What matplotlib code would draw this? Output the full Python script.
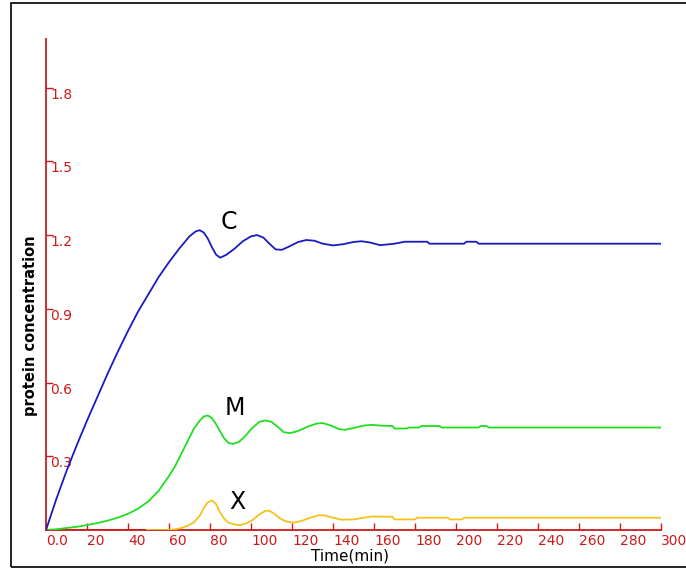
import matplotlib
matplotlib.use("Agg")
import matplotlib.pyplot as plt
from matplotlib.patches import Rectangle

# protein C (blue)
t_c = [0, 5, 10, 15, 20, 25, 30, 35, 40, 45, 50, 55, 60, 65, 70, 73, 75, 77, 79, 81,
       83, 85, 88, 92, 96, 100, 103, 106, 109, 112, 115, 119, 123, 127, 131, 135, 140,
       145, 150, 154, 158, 163, 170, 175, 186, 187, 204, 205, 210, 211, 300]
c_vals = [0, 0.125, 0.24, 0.345, 0.445, 0.54, 0.635, 0.725, 0.81, 0.89, 0.96, 1.03,
          1.09, 1.145, 1.195, 1.215, 1.22, 1.21, 1.185, 1.15, 1.12, 1.108, 1.12, 1.145,
          1.175, 1.195, 1.2, 1.19, 1.165, 1.142, 1.14, 1.155, 1.172, 1.18, 1.177, 1.165,
          1.158, 1.163, 1.172, 1.175, 1.17, 1.159, 1.165, 1.173, 1.173, 1.165, 1.165,
          1.173, 1.173, 1.165, 1.165]

# protein M (green)
t_m = [0, 5, 10, 15, 20, 25, 30, 35, 40, 45, 50, 55, 60, 63, 66, 69, 72, 75, 77, 79,
       81, 83, 85, 87, 89, 91, 94, 97, 100, 104, 107, 110, 113, 116, 119, 123, 128, 132,
       135, 139, 143, 146, 150, 155, 159, 163, 169, 170, 176, 177, 182, 183, 192, 193,
       211, 212, 215, 216, 300]
m_vals = [0, 0.003, 0.008, 0.013, 0.02, 0.028, 0.038, 0.05, 0.066, 0.087, 0.117, 0.16,
          0.22, 0.26, 0.31, 0.36, 0.41, 0.445, 0.462, 0.466, 0.455, 0.43, 0.4, 0.372,
          0.355, 0.35, 0.358, 0.38, 0.41, 0.44, 0.446, 0.44, 0.42, 0.398, 0.394, 0.403,
          0.422, 0.433, 0.435, 0.425, 0.41, 0.408, 0.415, 0.425, 0.428, 0.425, 0.423,
          0.413, 0.413, 0.417, 0.417, 0.423, 0.423, 0.417, 0.417, 0.423, 0.423, 0.417,
          0.417]

# protein X (yellow)
t_x = [0, 60, 63, 66, 69, 72, 75, 77, 79, 81, 83, 85, 87, 89, 92, 95, 98, 101, 104,
       107, 109, 111, 114, 117, 121, 125, 129, 133, 136, 140, 144, 150, 155, 159, 164,
       169, 170, 180, 181, 196, 197, 203, 204, 300]
x_vals = [0, 0, 0.003, 0.008, 0.017, 0.03, 0.058, 0.09, 0.113, 0.12, 0.105, 0.07,
          0.045, 0.03, 0.022, 0.02, 0.028, 0.042, 0.063, 0.078, 0.078, 0.068, 0.048,
          0.035, 0.03, 0.038, 0.05, 0.06, 0.059, 0.05, 0.042, 0.043, 0.05, 0.055,
          0.054, 0.054, 0.043, 0.043, 0.05, 0.05, 0.043, 0.043, 0.05, 0.05]

# red trace lying on the time axis
t_r = [0, 48]
r_vals = [0, 0]

x_ticks = list(range(0, 301, 20))
x_labels = ["0.0"] + [str(v) for v in x_ticks[1:]]
y_ticks = [0.3, 0.6, 0.9, 1.2, 1.5, 1.8]
y_labels = ["0.3", "0.6", "0.9", "1.2", "1.5", "1.8"]

RED = "#cc1a1a"

fig = plt.figure(figsize=(6.86, 5.69), dpi=100)
ax = fig.add_axes([46 / 686, 39 / 569, 615 / 686, 491.5 / 569])

# outer frame
fig.patches.append(Rectangle((10.5 / 686, 2 / 569), 1.0, 564 / 569, transform=fig.transFigure,
                             fill=False, edgecolor="black", linewidth=1.2))

ax.plot(t_x, x_vals, color="#f2c31e", lw=1.3)
ax.plot(t_r, r_vals, color=RED, lw=2.2)
ax.plot(t_m, m_vals, color="#22dd22", lw=1.3)
ax.plot(t_c, c_vals, color="#1a1ac4", lw=1.3)

ax.text(89, 1.254, "C", fontsize=17, ha="center", va="center")
ax.text(92, 0.497, "M", fontsize=17, ha="center", va="center")
ax.text(93.5, 0.115, "X", fontsize=17, ha="center", va="center")

ax.set_xlim(0, 300)
ax.set_ylim(0, 2.0)
for s in ["top", "right"]:
    ax.spines[s].set_visible(False)
for s in ["left", "bottom"]:
    ax.spines[s].set_color(RED)
    ax.spines[s].set_linewidth(1.3)
    ax.spines[s].set_zorder(1)

ax.set_xticks(x_ticks)
ax.set_xticklabels(x_labels, ha="left")
ax.set_yticks(y_ticks)
ax.set_yticklabels(y_labels, ha="left", va="top")
ax.tick_params(axis="x", direction="in", length=5, width=1, color=RED,
               labelcolor=RED, labelsize=10, pad=3)
ax.tick_params(axis="y", direction="in", length=5, width=1, color=RED,
               labelcolor=RED, labelsize=10, pad=-3)

ax.set_xlabel("Time(min)", fontsize=11)
ax.xaxis.set_label_coords(0.494, -0.037)
ax.set_ylabel("protein concentration", fontsize=10.5, fontweight="bold")
ax.yaxis.set_label_coords(-0.013, 0.415)

fig.savefig("out.png", dpi=100)
